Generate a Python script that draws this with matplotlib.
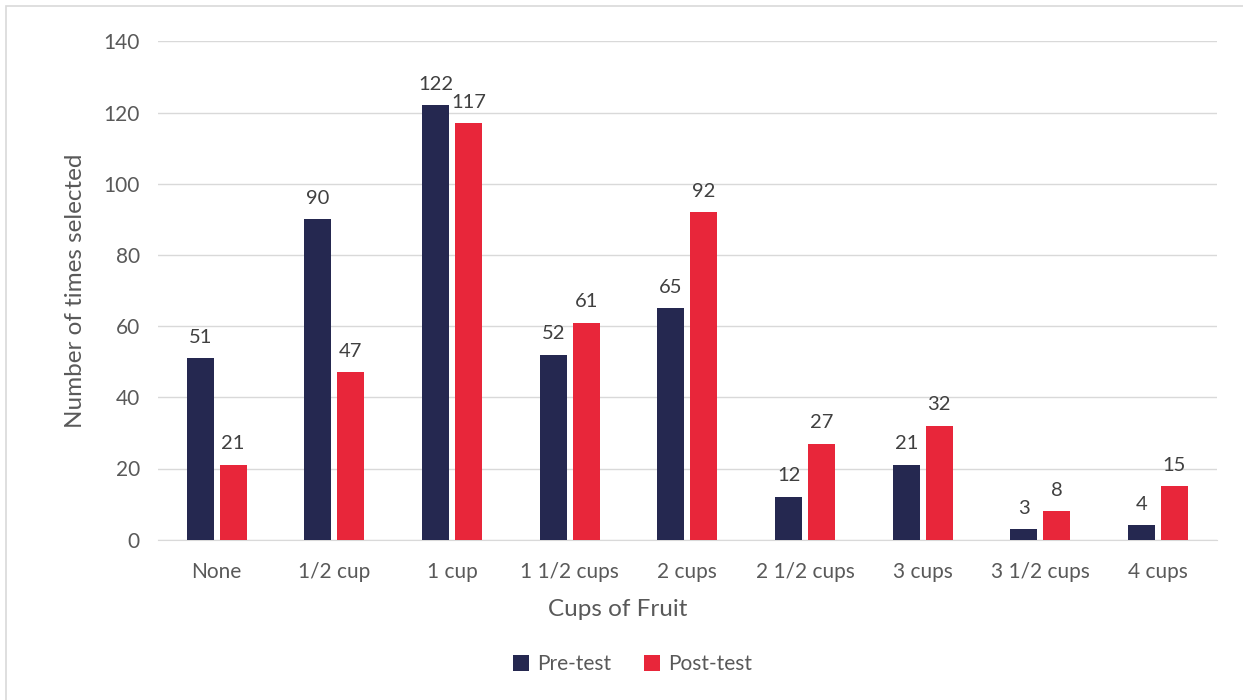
import matplotlib.pyplot as plt
import numpy as np
from matplotlib.patches import Rectangle

# data
categories = ['None', '1/2 cup', '1 cup', '1 1/2 cups', '2 cups',
              '2 1/2 cups', '3 cups', '3 1/2 cups', '4 cups']
pre_test = [51, 90, 122, 52, 65, 12, 21, 3, 4]
post_test = [21, 47, 117, 61, 92, 27, 32, 8, 15]

navy = '#252850'
red = '#E8263A'
text_col = '#595959'

plt.rcParams['font.family'] = ['Lato', 'DejaVu Sans']

fig = plt.figure(figsize=(12.43, 7), dpi=100)
ax = fig.add_axes([0.127, 0.229, 0.852, 0.712])

x = np.arange(len(categories))
w = 0.23
off = 0.14
b1 = ax.bar(x - off, pre_test, w, color=navy, label='Pre-test', zorder=3)
b2 = ax.bar(x + off, post_test, w, color=red, label='Post-test', zorder=3)

for bars in (b1, b2):
    for rect in bars:
        h = rect.get_height()
        ax.annotate(str(int(h)), (rect.get_x() + rect.get_width() / 2, h),
                    xytext=(0, 9), textcoords='offset points',
                    ha='center', va='bottom', fontsize=14.5, color='#404040')

ax.set_xlim(-0.5, len(categories) - 0.5)
ax.set_ylim(0, 140)
ax.set_yticks(range(0, 141, 20))
ax.set_xticks(x)
ax.set_xticklabels(categories)
ax.tick_params(length=0, labelsize=15, labelcolor=text_col)
ax.tick_params(axis='x', pad=16)
ax.tick_params(axis='y', pad=13)
ax.grid(axis='y', color='#d9d9d9', linewidth=1, zorder=0)
for s in ['top', 'right', 'left']:
    ax.spines[s].set_visible(False)
ax.spines['bottom'].set_color('#d9d9d9')

# axis titles (x title is centred on the whole chart, as in Excel)
fig.text(0.497, 0.129, 'Cups of Fruit', fontsize=17.5, color=text_col,
         ha='center', va='center')
fig.text(0.061, 0.585, 'Number of times selected', fontsize=17.5, color=text_col,
         ha='center', va='center', rotation=90)

fig.legend(loc='center', bbox_to_anchor=(0.509, 0.051), ncol=2, frameon=False,
           fontsize=15, labelcolor=text_col, handlelength=0.75, handleheight=0.75,
           columnspacing=1.6, handletextpad=0.4)

# chart border
fig.patches.append(Rectangle((0.005, -0.05), 1.1, 1.041, transform=fig.transFigure,
                             fill=False, edgecolor='#d9d9d9', linewidth=1.2))

fig.savefig('out.png', dpi=100)
